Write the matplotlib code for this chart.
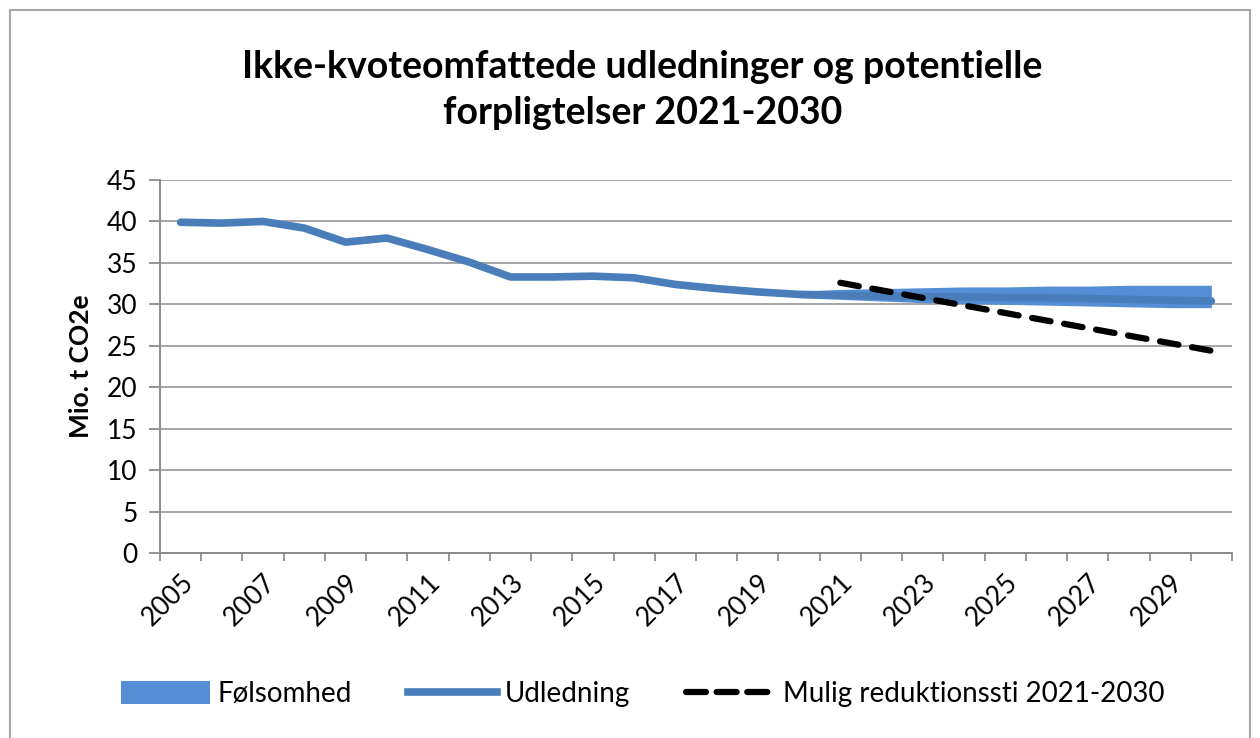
import matplotlib
matplotlib.use("Agg")
import matplotlib.pyplot as plt
from matplotlib.patches import Rectangle, Patch
from matplotlib.lines import Line2D

years = list(range(2005, 2031))
udledning = [39.9, 39.8, 40.0, 39.2, 37.5, 38.0, 36.6, 35.1, 33.3, 33.3, 33.4, 33.2,
             32.4, 31.9, 31.5, 31.2, 31.1, 31.0, 30.9, 30.9, 30.8, 30.8, 30.7, 30.6,
             30.5, 30.4]
sens_years = list(range(2020, 2031))
sens_low = [30.8, 30.6, 30.4, 30.2, 30.1, 30.0, 29.9, 29.8, 29.7, 29.6, 29.6]
sens_high = [31.6, 31.8, 31.9, 32.0, 32.1, 32.1, 32.2, 32.2, 32.3, 32.3, 32.3]
path_years = [2021, 2030]
path_vals = [32.6, 24.4]
label_years = list(range(2005, 2031, 2))

plt.rcParams["font.family"] = ["Lato", "DejaVu Sans"]

fig = plt.figure(figsize=(12.6, 7.38), dpi=100)
fig.patch.set_facecolor("white")
fig.patches.append(Rectangle((10 / 1260, -0.05), 1240 / 1260, 1.05 - 10 / 738,
                             transform=fig.transFigure, fill=False,
                             edgecolor="#a6a6a6", linewidth=1.5))

ax = fig.add_axes([160 / 1260, 1 - 553 / 738, (1232 - 160) / 1260, (553 - 180) / 738])

ax.fill_between(sens_years, sens_low, sens_high, color="#558ed5", linewidth=0, zorder=3)
ax.plot(years, udledning, color="#4a7ebb", linewidth=5.5, solid_capstyle="round",
        solid_joinstyle="round", zorder=4)
ax.plot(path_years, path_vals, color="black", linewidth=4.5, linestyle=(0, (3, 2.2)),
        dash_capstyle="round", zorder=5)

ax.set_xlim(2004.5, 2030.5)
ax.set_ylim(0, 45)
ax.set_yticks(range(0, 46, 5))
ax.set_xticks(label_years)
ax.set_xticklabels([str(y) for y in label_years], rotation=45, ha="right",
                   rotation_mode="anchor", fontsize=19)
ax.set_xticks([y - 0.5 for y in range(2005, 2032)], minor=True)
ax.tick_params(axis="x", which="major", length=0, pad=12)
ax.tick_params(axis="x", which="minor", length=6, color="#8c8c8c", width=1.3)
ax.tick_params(axis="y", length=8, color="#8c8c8c", width=1.3, labelsize=19, pad=8)

ax.grid(axis="y", color="#a6a6a6", linewidth=1.4)
ax.set_axisbelow(True)
for s in ("top", "right"):
    ax.spines[s].set_visible(False)
for s in ("left", "bottom"):
    ax.spines[s].set_color("#8c8c8c")
    ax.spines[s].set_linewidth(1.4)

ax.set_ylabel("Mio. t CO2e", fontsize=19, fontweight="bold", labelpad=10)

fig.text(0.51, 1 - 90 / 738, "Ikke-kvoteomfattede udledninger og potentielle\nforpligtelser 2021-2030",
         ha="center", va="center", fontsize=27, fontweight="bold", linespacing=1.4)

handles = [Patch(facecolor="#558ed5", edgecolor="none"),
           Line2D([], [], color="#4a7ebb", linewidth=5.5),
           Line2D([], [], color="black", linewidth=4.5, linestyle=(0, (3.2, 1.7)),
                  dash_capstyle="round")]
fig.legend(handles, ["Følsomhed", "Udledning", "Mulig reduktionssti 2021-2030"],
           loc="center", bbox_to_anchor=(0.51, 1 - 694 / 738), ncol=3, frameon=False,
           fontsize=20, handlelength=3.2, handleheight=0.9, handletextpad=0.3,
           columnspacing=2.0)

plt.savefig("out.png", dpi=100, facecolor=fig.get_facecolor())
plt.close(fig)
